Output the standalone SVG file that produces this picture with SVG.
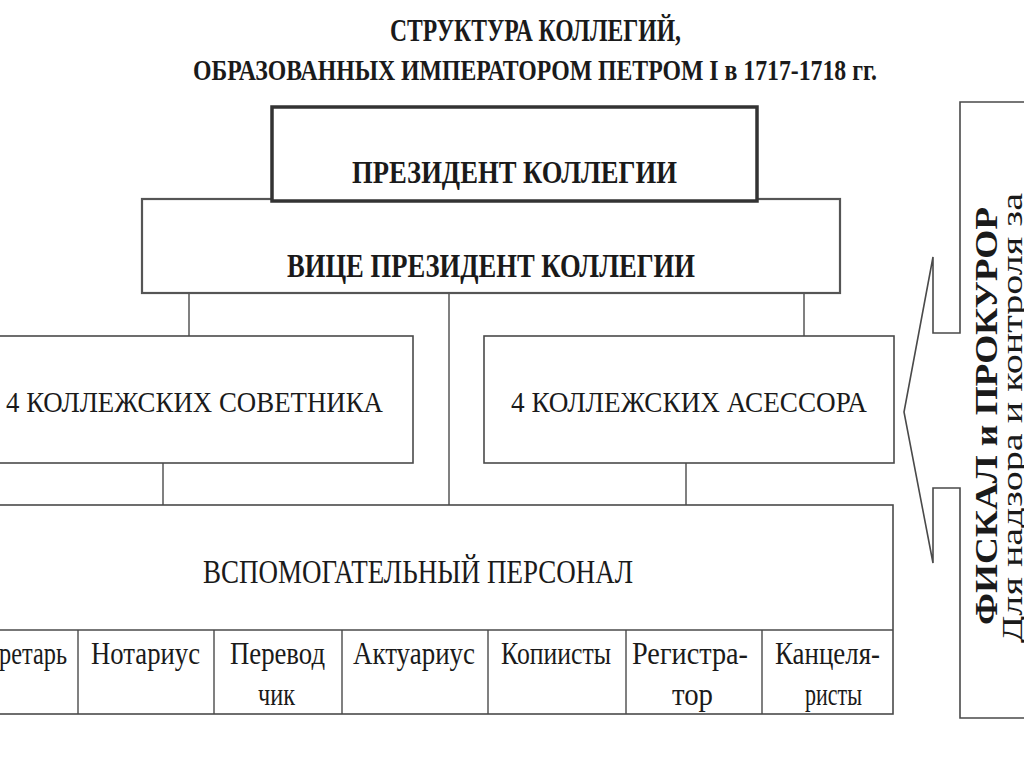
<svg xmlns="http://www.w3.org/2000/svg" width="1024" height="767" viewBox="0 0 1024 767">
<style>
.t{font-family:"Liberation Serif","Times New Roman",serif;fill:#1a1a1a;}
.b{font-weight:bold;}
.box{fill:#fff;stroke:#4a4a4a;stroke-width:1.6;}
.thick{fill:#fff;stroke:#333;stroke-width:3.5;}
.mid{fill:#fff;stroke:#555;stroke-width:2.2;}
.ln{fill:none;stroke:#4a4a4a;stroke-width:1.4;}
</style>
<rect width="1024" height="767" fill="#fff"/>
<g id="title">
<text class="t b" x="535.5" y="41" font-size="31" text-anchor="middle" textLength="291" lengthAdjust="spacingAndGlyphs">СТРУКТУРА КОЛЛЕГИЙ,</text>
<text class="t b" x="535" y="80" font-size="30" text-anchor="middle" textLength="684" lengthAdjust="spacingAndGlyphs">ОБРАЗОВАННЫХ ИМПЕРАТОРОМ ПЕТРОМ I в 1717-1718 гг.</text>
</g>
<g id="connectors">
<line class="ln" x1="189" y1="293" x2="189" y2="336"/>
<line class="ln" x1="449" y1="293" x2="449" y2="505"/>
<line class="ln" x1="804" y1="293" x2="804" y2="336"/>
<line class="ln" x1="163" y1="463" x2="163" y2="505"/>
<line class="ln" x1="686" y1="463" x2="686" y2="505"/>
</g>
<g id="vice">
<rect class="mid" x="142" y="199" width="698" height="94"/>
<text class="t b" x="491" y="277" font-size="33" text-anchor="middle" textLength="408" lengthAdjust="spacingAndGlyphs">ВИЦЕ ПРЕЗИДЕНТ КОЛЛЕГИИ</text>
</g>
<g id="president">
<rect class="thick" x="272" y="107" width="485" height="94"/>
<text class="t b" x="514.5" y="183" font-size="32" text-anchor="middle" textLength="325" lengthAdjust="spacingAndGlyphs">ПРЕЗИДЕНТ КОЛЛЕГИИ</text>
</g>
<g id="counselors">
<rect class="box" x="-5" y="336" width="418" height="127"/>
<text class="t" x="194.5" y="412" font-size="30" text-anchor="middle" textLength="377" lengthAdjust="spacingAndGlyphs">4 КОЛЛЕЖСКИХ СОВЕТНИКА</text>
</g>
<g id="assessors">
<rect class="box" x="484" y="336" width="410" height="127"/>
<text class="t" x="689" y="412" font-size="30" text-anchor="middle" textLength="356" lengthAdjust="spacingAndGlyphs">4 КОЛЛЕЖСКИХ АСЕССОРА</text>
</g>
<g id="staff">
<rect class="box" x="-5" y="505" width="898" height="209"/>
<line class="ln" x1="-5" y1="630" x2="893" y2="630"/>
<text class="t" x="418" y="583" font-size="33" text-anchor="middle" textLength="430" lengthAdjust="spacingAndGlyphs">ВСПОМОГАТЕЛЬНЫЙ ПЕРСОНАЛ</text>
</g>
<g id="staff-cells">
<line class="ln" x1="78" y1="630" x2="78" y2="714"/>
<line class="ln" x1="214" y1="630" x2="214" y2="714"/>
<line class="ln" x1="342" y1="630" x2="342" y2="714"/>
<line class="ln" x1="488" y1="630" x2="488" y2="714"/>
<line class="ln" x1="626" y1="630" x2="626" y2="714"/>
<line class="ln" x1="762" y1="630" x2="762" y2="714"/>
<text class="t" x="67" y="664" font-size="31" text-anchor="end" textLength="68" lengthAdjust="spacingAndGlyphs">ретарь</text>
<text class="t" x="145.5" y="664" font-size="31" text-anchor="middle" textLength="109" lengthAdjust="spacingAndGlyphs">Нотариус</text>
<text class="t" x="277.5" y="664" font-size="31" text-anchor="middle" textLength="95" lengthAdjust="spacingAndGlyphs">Перевод</text>
<text class="t" x="276.5" y="705" font-size="31" text-anchor="middle" textLength="37" lengthAdjust="spacingAndGlyphs">чик</text>
<text class="t" x="414" y="664" font-size="31" text-anchor="middle" textLength="122" lengthAdjust="spacingAndGlyphs">Актуариус</text>
<text class="t" x="556" y="664" font-size="31" text-anchor="middle" textLength="110" lengthAdjust="spacingAndGlyphs">Копиисты</text>
<text class="t" x="690" y="664" font-size="31" text-anchor="middle" textLength="116" lengthAdjust="spacingAndGlyphs">Регистра-</text>
<text class="t" x="692.5" y="705" font-size="31" text-anchor="middle" textLength="41" lengthAdjust="spacingAndGlyphs">тор</text>
<text class="t" x="827.5" y="664" font-size="31" text-anchor="middle" textLength="105" lengthAdjust="spacingAndGlyphs">Канцеля-</text>
<text class="t" x="833.5" y="705" font-size="31" text-anchor="middle" textLength="57" lengthAdjust="spacingAndGlyphs">ристы</text>
</g>
<g id="fiscal">
<path class="box" d="M1030 102 H960 V333 H933 V257 L904 412 L933 563 V488 H960 V718 H1030"/>
<text class="t b" font-size="31" text-anchor="middle" textLength="418" lengthAdjust="spacingAndGlyphs" transform="translate(997 416) rotate(-90)">ФИСКАЛ и ПРОКУРОР</text>
<text class="t" font-size="30" text-anchor="middle" textLength="450" lengthAdjust="spacingAndGlyphs" transform="translate(1022 418) rotate(-90)">Для надзора и контроля за</text>
</g>
</svg>
